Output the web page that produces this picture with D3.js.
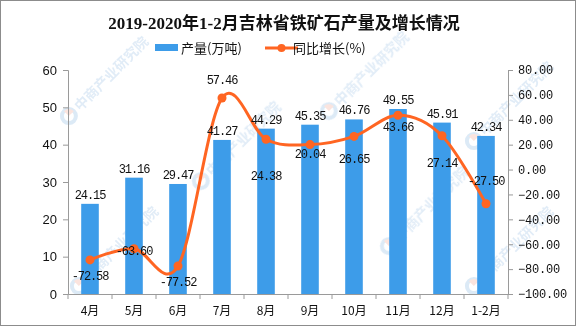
<!DOCTYPE html>
<html>
<head>
<meta charset="utf-8">
<script src="https://cdn.jsdelivr.net/npm/d3@7"></script>
<style>
  body { margin: 0; background: #fff; }
  svg { display: block; }
</style>
</head>
<body>
<div id="chart"></div>
<script>
const months = ["4月", "5月", "6月", "7月", "8月", "9月", "10月", "11月", "12月", "1-2月"];
const output = [24.15, 31.16, 29.47, 41.27, 44.29, 45.35, 46.76, 49.55, 45.91, 42.34];
const growth = [-72.58, -63.60, -77.52, 57.46, 24.38, 20.04, 26.65, 43.66, 27.14, -27.50];
const leftTicks = [0, 10, 20, 30, 40, 50, 60];
const rightTicks = [80, 60, 40, 20, 0, -20, -40, -60, -80, -100];
// nudges for the growth labels so they sit clear of the line
const growthLabelDy = [20, 6, 20, -14, 41, 13, 27, 16, 31, -19];

const W = 576, H = 326;
const margin = {top: 70, right: 68, bottom: 32, left: 68};
const plotW = W - margin.left - margin.right,
  plotH = H - margin.top - margin.bottom;

const svg = d3.select("#chart")
  .append("svg")
    .attr("width", W)
    .attr("height", H);

// outer frame
svg.append("rect")
  .attr("x", 0.5).attr("y", 0.5)
  .attr("width", W - 1).attr("height", H - 1)
  .attr("fill", "#fff")
  .attr("stroke", "#8c8c8c");

// faint watermarks
const wm = svg.append("g").attr("opacity", 0.35);
[[100, 85], [232, 150], [110, 255], [360, 80], [420, 215], [505, 110], [505, 255]].forEach(([cx, cy]) => {
  const g = wm.append("g").attr("transform", `translate(${cx},${cy}) rotate(-45)`);
  g.append("circle").attr("cx", -44).attr("cy", 0).attr("r", 7)
    .attr("fill", "none").attr("stroke", "#9cc3e6").attr("stroke-width", 4);
  g.append("path").attr("d", "M-44,-7 A7,7 0 0,1 -37,0 L-44,0 Z").attr("fill", "#f4b3a0");
  g.append("text").attr("x", -33).attr("y", 5)
    .attr("font-family", "Noto Sans CJK SC").attr("font-size", 14).attr("font-weight", "bold")
    .attr("fill", "#a9c9e8")
    .text("中商产业研究院");
});

const plot = svg.append("g")
  .attr("transform", `translate(${margin.left},${margin.top})`);

const x = d3.scaleBand()
  .domain(months)
  .range([0, plotW])
  .paddingInner(0.6)
  .paddingOuter(0.3);

const yL = d3.scaleLinear().domain([0, 60]).range([plotH, 0]);
const yR = d3.scaleLinear().domain([-100, 80]).range([plotH, 0]);

const axisColor = "#9a9a9a";

// bars
plot.selectAll("rect.bar")
  .data(output)
  .join("rect")
    .attr("class", "bar")
    .attr("x", (d, i) => x(months[i]))
    .attr("y", d => yL(d))
    .attr("width", x.bandwidth())
    .attr("height", d => plotH - yL(d))
    .attr("fill", "#3d9ce9");

// left axis
const leftAxis = plot.append("g")
  .call(d3.axisLeft(yL).tickValues(leftTicks).tickSize(5).tickPadding(6).tickFormat(d3.format("d")));
leftAxis.select(".domain").attr("stroke", axisColor);
leftAxis.selectAll(".tick line").attr("stroke", axisColor);
leftAxis.selectAll("text")
  .attr("font-family", "Liberation Sans, Arial")
  .attr("font-size", 13)
  .attr("fill", "#111");

// right axis
const rightAxis = plot.append("g")
  .attr("transform", `translate(${plotW},0)`)
  .call(d3.axisRight(yR).tickValues(rightTicks).tickSize(5).tickPadding(5).tickFormat(d3.format(".2f")));
rightAxis.select(".domain").attr("stroke", axisColor);
rightAxis.selectAll(".tick line").attr("stroke", axisColor);
rightAxis.selectAll("text")
  .attr("font-family", "Liberation Mono, monospace")
  .attr("font-size", 12)
  .attr("letter-spacing", -0.2)
  .attr("fill", "#111");

// bottom axis: labels at band centres, tick marks at band edges
const xAxis = plot.append("g")
  .attr("transform", `translate(0,${plotH})`)
  .call(d3.axisBottom(x).tickSize(0).tickPadding(12));
xAxis.select(".domain").attr("stroke", axisColor);
xAxis.selectAll("text")
  .attr("font-family", "Noto Sans CJK SC")
  .attr("font-size", 12)
  .attr("fill", "#111");
const edges = months.map(m => x(m) + x.bandwidth() / 2 - x.step() / 2).concat([plotW]);
xAxis.selectAll("line.edge")
  .data(edges)
  .join("line")
    .attr("class", "edge")
    .attr("x1", d => d).attr("x2", d => d)
    .attr("y1", 0).attr("y2", 5)
    .attr("stroke", axisColor);

// growth line
const cx = (d, i) => x(months[i]) + x.bandwidth() / 2;
const line = d3.line()
  .x(cx)
  .y(d => yR(d))
  .curve(d3.curveCardinal.tension(0));

plot.append("path")
  .datum(growth)
  .attr("d", line)
  .attr("fill", "none")
  .attr("stroke", "#ff6522")
  .attr("stroke-width", 3);

plot.selectAll("circle.pt")
  .data(growth)
  .join("circle")
    .attr("class", "pt")
    .attr("cx", cx)
    .attr("cy", d => yR(d))
    .attr("r", 4.5)
    .attr("fill", "#ff6522");

// value labels
const labelFont = sel => sel
  .attr("font-family", "Liberation Mono, monospace")
  .attr("font-size", 12)
  .attr("letter-spacing", -1.1)
  .attr("text-anchor", "middle")
  .attr("fill", "#111");

plot.selectAll("text.barval")
  .data(output)
  .join("text")
    .attr("class", "barval")
    .attr("x", cx)
    .attr("y", d => yL(d) - 5)
    .text(d => d.toFixed(2))
    .call(labelFont);

plot.selectAll("text.lineval")
  .data(growth)
  .join("text")
    .attr("class", "lineval")
    .attr("x", cx)
    .attr("y", (d, i) => yR(d) + growthLabelDy[i])
    .text(d => d.toFixed(2))
    .call(labelFont);

// title
svg.append("text")
  .attr("x", 284).attr("y", 29)
  .attr("text-anchor", "middle")
  .attr("font-family", "Liberation Serif, Noto Sans CJK SC")
  .attr("font-weight", "bold")
  .attr("font-size", 17)
  .attr("fill", "#111")
  .text("2019-2020年1-2月吉林省铁矿石产量及增长情况");

// legend
const legend = svg.append("g").attr("font-family", "Noto Sans CJK SC").attr("font-size", 13).attr("fill", "#111");
legend.append("rect")
  .attr("x", 155).attr("y", 44).attr("width", 23).attr("height", 7)
  .attr("fill", "#3d9ce9");
legend.append("text").attr("x", 181).attr("y", 53).text("产量(万吨)");
legend.append("line")
  .attr("x1", 265).attr("x2", 298).attr("y1", 48).attr("y2", 48)
  .attr("stroke", "#ff6522").attr("stroke-width", 3);
legend.append("circle").attr("cx", 281.5).attr("cy", 48).attr("r", 4).attr("fill", "#ff6522");
legend.append("text").attr("x", 293).attr("y", 53).text("同比增长(%)");
</script>
</body>
</html>
